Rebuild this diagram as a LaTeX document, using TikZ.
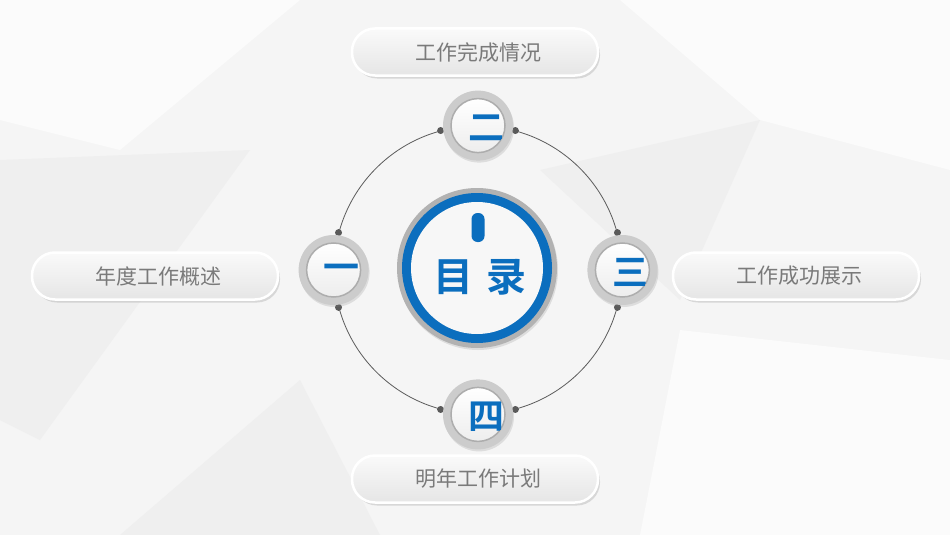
\documentclass[tikz,border=0pt]{standalone}
\usepackage{fontspec}
\newfontfamily\cjk[BoldFont=Noto Sans CJK SC Bold]{Noto Sans CJK SC}
\usetikzlibrary{positioning,shadows}
\definecolor{tocblue}{HTML}{0B6EBE}
\definecolor{labelgray}{HTML}{7A7A7A}
\definecolor{ringgray}{HTML}{5A5A5A}
\definecolor{bgA}{HTML}{F5F5F5}
\definecolor{bgB}{HTML}{EFEFEF}
\definecolor{bgC}{HTML}{FBFBFB}

\begin{document}
\begin{tikzpicture}[x=1pt,y=-1pt]
\tikzstyle{every node}+=[inner sep=0pt]
\tikzstyle{pill}=[rectangle, rounded corners=23pt, minimum width=246pt, minimum height=47pt,
  draw=white, line width=2.5pt, top color=white!96!gray, bottom color=black!10,
  drop shadow={shadow xshift=2pt, shadow yshift=-3pt, opacity=0.25, fill=black!50},
  font=\cjk\fontsize{21}{21}\selectfont, text=labelgray]
\tikzstyle{numring}=[circle, minimum size=70pt, fill=black!20,
  drop shadow={shadow xshift=1pt, shadow yshift=-2pt, opacity=0.2, fill=black!50}]
\tikzstyle{numface}=[circle, minimum size=54pt, draw=black!32, line width=1.5pt,
  top color=white, bottom color=black!7]
\tikzstyle{numtext}=[font=\cjk\bfseries\fontsize{36}{36}\selectfont, text=tocblue]
\tikzstyle{dot}=[circle, fill=ringgray, minimum size=7pt]
% background
\fill[bgA] (0,0) rectangle (950,535);
\fill[bgC] (0,0) -- (300,0) -- (120,150) -- (0,120) -- cycle;
\fill[bgB] (0,160) -- (250,150) -- (40,440) -- (0,420) -- cycle;
\fill[bgC] (620,0) -- (950,0) -- (950,170) -- (760,120) -- cycle;
\fill[bgB] (540,170) -- (760,120) -- (680,300) -- cycle;
\fill[bgC] (680,330) -- (950,360) -- (950,535) -- (640,535) -- cycle;
\fill[bgB] (120,535) -- (300,380) -- (380,535) -- cycle;
\fill[bgC] (850,420) -- (950,380) -- (950,535) -- cycle;
\useasboundingbox (0,0) rectangle (950,535);
% ring of the four parts
\node[circle, draw=ringgray, line width=0.8pt, minimum size=288pt] (ring) at (478,270) {};
\foreach \a in {75,105,165,195,255,285,345,15}
  \node[dot] at (ring.\a) {};
% centre badge
\node[circle, minimum size=160pt, fill=black!30,
  drop shadow={shadow xshift=1pt, shadow yshift=-2pt, opacity=0.2, fill=black!50}] (hub) at (477,268) {};
\node[circle, minimum size=150pt, fill=tocblue] (hubblue) at (hub) {};
\node[circle, minimum size=132pt, fill=black!3] (hubface) at (hub) {};
\fill[tocblue, rounded corners=6pt] (471.5,213) rectangle (484.5,242);
\node[font=\cjk\bfseries\fontsize{40}{40}\selectfont, text=tocblue] (title) at (480,277) {目\,\,录};
% numbered circles
\foreach \n/\a/\t in {one/180/一,two/90/二,three/0/三,four/270/四}{
  \node[numring] (\n) at (ring.\a) {};
  \node[numface] (\n face) at (\n) {};
  \begin{scope}
    \clip (\n) circle (26.5pt);
    \node[numtext] at ([xshift=8pt, yshift=-2pt]\n) {\t};
  \end{scope}
}
% labels
\node[pill] (lblone) at (155,276) {\hspace*{6pt}年度工作概述};
\node[pill] (lbltwo) at (475,52) {\hspace*{6pt}工作完成情况};
\node[pill] (lblthree) at (796,276) {\hspace*{6pt}工作成功展示};
\node[pill] (lblfour) at (475,479) {\hspace*{6pt}明年工作计划};
\end{tikzpicture}
\end{document}
